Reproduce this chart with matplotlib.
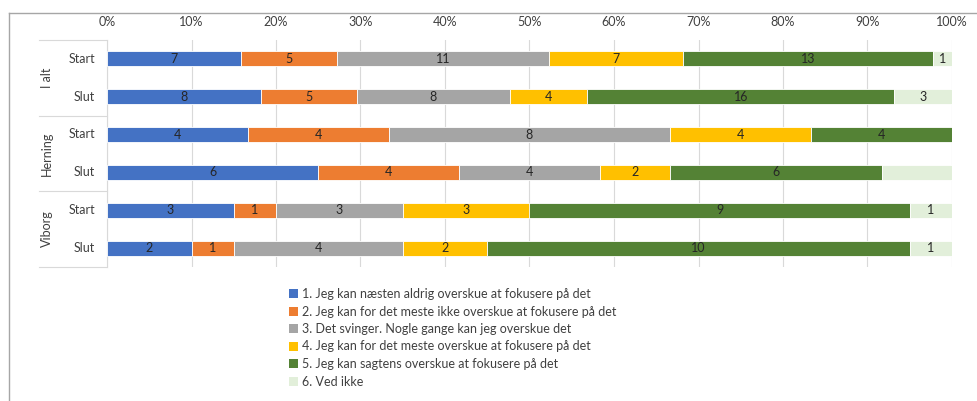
import matplotlib.pyplot as plt
from matplotlib.lines import Line2D
from matplotlib.patches import Patch

plt.rcParams['font.family'] = ['Lato', 'DejaVu Sans']

# data
groups = ["I alt", "Herning", "Viborg"]
rows = ["Start", "Slut", "Start", "Slut", "Start", "Slut"]
categories = [
    "1. Jeg kan næsten aldrig overskue at fokusere på det",
    "2. Jeg kan for det meste ikke overskue at fokusere på det",
    "3. Det svinger. Nogle gange kan jeg overskue det",
    "4. Jeg kan for det meste overskue at fokusere på det",
    "5. Jeg kan sagtens overskue at fokusere på det",
    "6. Ved ikke",
]
# counts per row (rows in order above), one list per category
cat1 = [7, 8, 4, 6, 3, 2]
cat2 = [5, 5, 4, 4, 1, 1]
cat3 = [11, 8, 8, 4, 3, 4]
cat4 = [7, 4, 4, 2, 3, 2]
cat5 = [13, 16, 4, 6, 9, 10]
cat6 = [1, 3, 0, 2, 1, 1]
hidden_labels = [(3, 5)]  # Herning Slut, "Ved ikke" has no label in the original

colors = ["#4472C4", "#ED7D31", "#A5A5A5", "#FFC000", "#548235", "#E2EFDA"]

series = [cat1, cat2, cat3, cat4, cat5, cat6]
totals = [sum(s[i] for s in series) for i in range(len(rows))]

W, H = 978, 401
FS = 9
fig = plt.figure(figsize=(W / 100, H / 100), dpi=100)
ax = fig.add_axes([107 / W, 1 - 267 / H, (952 - 107) / W, (267 - 40) / H])

left = [0.0] * len(rows)
for j, (vals, col) in enumerate(zip(series, colors)):
    pct = [v / t * 100 for v, t in zip(vals, totals)]
    bars = ax.barh(range(len(rows)), pct, left=left, height=0.4, color=col,
                   edgecolor="white", linewidth=0.6, zorder=3)
    for i, (b, v) in enumerate(zip(bars, vals)):
        if v == 0 or (i, j) in hidden_labels:
            continue
        ax.text(b.get_x() + b.get_width() / 2, i, str(v), ha="center", va="center",
                fontsize=FS, color="#262626", zorder=4)
    left = [l + p for l, p in zip(left, pct)]

ax.set_xlim(0, 100)
ax.set_ylim(5.5, -0.5)
ax.set_xticks(range(0, 101, 10))
ax.set_xticklabels([f"{t}%" for t in range(0, 101, 10)], fontsize=FS, color="#404040")
ax.xaxis.tick_top()
ax.tick_params(axis="x", length=0, pad=9)
ax.set_yticks([])
ax.grid(axis="x", color="#d9d9d9", linewidth=0.8, zorder=0)
for s in ["top", "right", "bottom"]:
    ax.spines[s].set_visible(False)
ax.spines["left"].set_color("#d9d9d9")

# row and group labels
tr = fig.transFigure
for i, r in enumerate(rows):
    y = 1 - (59 + i * 37.7) / H
    fig.text(95 / W, y, r, ha="right", va="center", fontsize=FS, color="#404040")
for g, name in enumerate(groups):
    y = 1 - (78 + g * 75.5) / H
    fig.text(47 / W, y, name, ha="center", va="center", rotation=90,
             fontsize=FS, color="#404040")
for ypx in [40, 116, 191, 267]:
    fig.add_artist(Line2D([39 / W, 107 / W], [1 - ypx / H] * 2, transform=tr,
                          color="#d9d9d9", linewidth=0.8))

# outer frame (cropped)
fig.add_artist(Line2D([9 / W, 1], [1 - 13 / H] * 2, transform=tr, color="#a6a6a6", linewidth=1))
fig.add_artist(Line2D([9 / W, 9 / W], [0, 1 - 13 / H], transform=tr, color="#a6a6a6", linewidth=1))

handles = [Patch(facecolor=c, edgecolor="none") for c in colors]
fig.legend(handles, categories, loc="upper left", bbox_to_anchor=(284 / W, 1 - 283 / H),
           frameon=False, fontsize=FS, handlelength=0.75, handleheight=0.75,
           handletextpad=0.3, labelspacing=0.44, borderaxespad=0, labelcolor="#404040")

fig.savefig("out.png", dpi=100)
